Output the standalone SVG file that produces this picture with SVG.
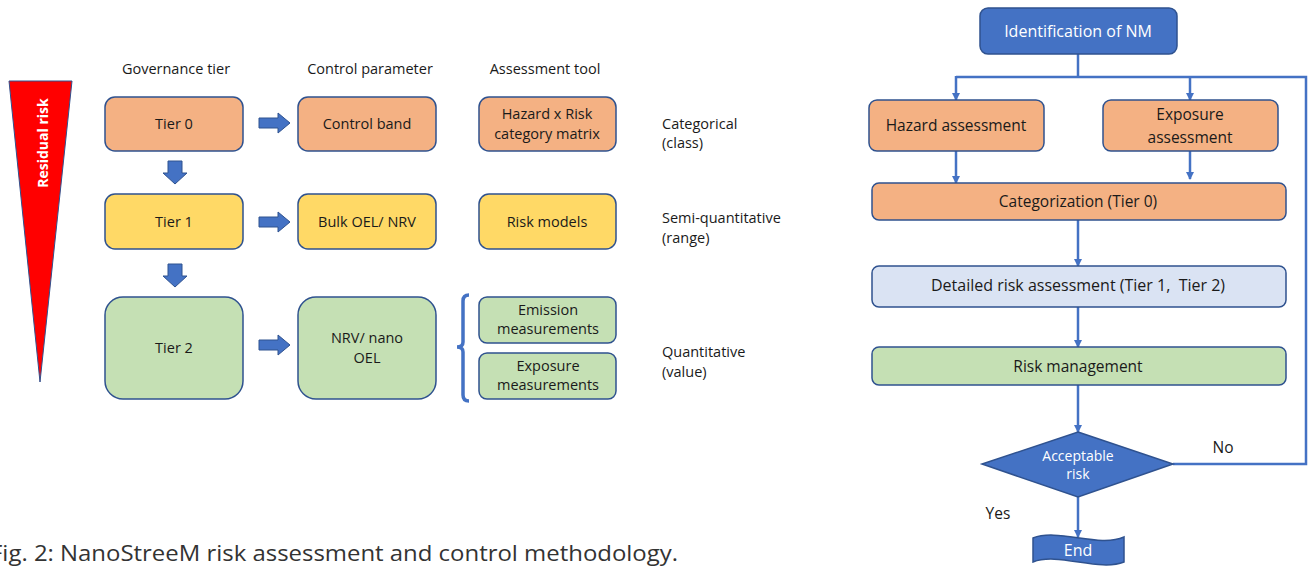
<svg xmlns="http://www.w3.org/2000/svg" width="1311" height="567" viewBox="0 0 1311 567">
<defs>
<style>
.t{font-family:"Open Sans","Liberation Sans",sans-serif;font-size:14.5px;fill:#1a1a1a;text-anchor:middle}
.l{font-family:"Open Sans","Liberation Sans",sans-serif;font-size:14.5px;fill:#1a1a1a}
.w{font-family:"Open Sans","Liberation Sans",sans-serif;font-size:16px;fill:#ffffff;text-anchor:middle}
.f{font-family:"Open Sans","Liberation Sans",sans-serif;font-size:15.5px;fill:#1a1a1a;text-anchor:middle;white-space:pre}
.bx{stroke:#2F528F;stroke-width:1.5}
.or{fill:#F4B183}
.ye{fill:#FFD966}
.gr{fill:#C5E0B4}
.lb{fill:#DAE3F3}
.bl{fill:#4472C4}
.ba{fill:#4472C4;stroke:#2F528F;stroke-width:1}
.cn{fill:none;stroke:#4472C4;stroke-width:2.5}
</style>
<marker id="ah" markerWidth="8" markerHeight="8" refX="7" refY="4" orient="auto" markerUnits="userSpaceOnUse">
<path d="M0,0 L8,4 L0,8 Z" fill="#4472C4"/>
</marker>
</defs>
<rect width="1311" height="567" fill="#ffffff"/>

<g id="residual-risk">
<polygon points="9,81 72,81 40,382" fill="#FF0000" stroke="#2F528F" stroke-width="1"/>
<text x="48" y="143" transform="rotate(-90 48 143)" style="font-family:'Open Sans','Liberation Sans',sans-serif;font-size:14px;font-weight:bold;fill:#ffffff;text-anchor:middle">Residual risk</text>
</g>

<g id="headers">
<text class="t" x="176" y="74">Governance tier</text>
<text class="t" x="370" y="74">Control parameter</text>
<text class="t" x="545" y="74">Assessment tool</text>
</g>

<g id="tier0"><rect class="bx or" x="105" y="97" width="138" height="54" rx="10"/><text class="t" x="174" y="129">Tier 0</text></g>
<g id="tier1"><rect class="bx ye" x="105" y="194" width="138" height="55" rx="10"/><text class="t" x="174" y="227">Tier 1</text></g>
<g id="tier2"><rect class="bx gr" x="105" y="297" width="138" height="102" rx="18"/><text class="t" x="174" y="353">Tier 2</text></g>

<g id="control-band"><rect class="bx or" x="298" y="97" width="138" height="54" rx="10"/><text class="t" x="367" y="129">Control band</text></g>
<g id="bulk-oel"><rect class="bx ye" x="298" y="194" width="138" height="55" rx="10"/><text class="t" x="367" y="227">Bulk OEL/ NRV</text></g>
<g id="nrv-nano"><rect class="bx gr" x="298" y="297" width="138" height="102" rx="18"/><text class="t" x="367" y="343">NRV/ nano</text><text class="t" x="367" y="363">OEL</text></g>

<g id="hazard-matrix"><rect class="bx or" x="479" y="97" width="137" height="54" rx="10"/><text class="t" x="547" y="119">Hazard x Risk</text><text class="t" x="547" y="139">category matrix</text></g>
<g id="risk-models"><rect class="bx ye" x="479" y="194" width="137" height="55" rx="10"/><text class="t" x="547" y="227">Risk models</text></g>
<g id="emission"><rect class="bx gr" x="479" y="297" width="137" height="46" rx="8"/><text class="t" x="548" y="315">Emission</text><text class="t" x="548" y="334">measurements</text></g>
<g id="exposure-meas"><rect class="bx gr" x="479" y="353" width="137" height="46" rx="8"/><text class="t" x="548" y="371">Exposure</text><text class="t" x="548" y="390">measurements</text></g>

<g id="side-labels">
<text class="l" x="662" y="129">Categorical</text>
<text class="l" x="662" y="148">(class)</text>
<text class="l" x="662" y="223">Semi-quantitative</text>
<text class="l" x="662" y="243">(range)</text>
<text class="l" x="662" y="357">Quantitative</text>
<text class="l" x="662" y="377">(value)</text>
</g>

<g id="block-arrows">
<polygon class="ba" points="259,118 278,118 278,113 290,123 278,133 278,128 259,128"/>
<polygon class="ba" points="259,217 278,217 278,212 290,222 278,232 278,227 259,227"/>
<polygon class="ba" points="259,340 278,340 278,335 290,345 278,355 278,350 259,350"/>
<polygon class="ba" points="168,161 182,161 182,173 187,173 175,184 163,173 168,173"/>
<polygon class="ba" points="168,264 182,264 182,276 187,276 175,287 163,276 168,276"/>
<path d="M469,295 Q463,295 463,301 L463,342 Q463,347 457,347 Q463,347 463,352 L463,395 Q463,401 469,401" fill="none" stroke="#4472C4" stroke-width="3.5"/>
</g>

<g id="connectors">
<path class="cn" d="M1078,54 L1078,77"/>
<path class="cn" d="M956,77 L1306,77 L1306,464 L1173,464"/>
<path class="cn" d="M956,76 L956,100" marker-end="url(#ah)"/>
<path class="cn" d="M1190,76 L1190,100" marker-end="url(#ah)"/>
<path class="cn" d="M956,151 L956,183" marker-end="url(#ah)"/>
<path class="cn" d="M1190,151 L1190,179" marker-end="url(#ah)"/>
<path class="cn" d="M1078,220 L1078,266" marker-end="url(#ah)"/>
<path class="cn" d="M1078,307 L1078,347" marker-end="url(#ah)"/>
<path class="cn" d="M1078,385 L1078,432" marker-end="url(#ah)"/>
<path class="cn" d="M1078,497 L1078,537" marker-end="url(#ah)"/>
</g>

<g id="identification"><rect class="bx bl" x="980" y="8" width="197" height="46" rx="8"/><text class="w" x="1078" y="37">Identification of NM</text></g>
<g id="hazard-assessment"><rect class="bx or" x="869" y="100" width="175" height="51" rx="8"/><text class="f" x="956" y="131">Hazard assessment</text></g>
<g id="exposure-assessment"><rect class="bx or" x="1103" y="100" width="175" height="51" rx="8"/><text class="f" x="1190" y="120">Exposure</text><text class="f" x="1190" y="143">assessment</text></g>
<g id="categorization"><rect class="bx or" x="872" y="183" width="414" height="37" rx="7"/><text class="f" x="1078" y="207">Categorization (Tier 0)</text></g>
<g id="detailed"><rect class="bx lb" x="872" y="266" width="414" height="41" rx="7"/><text class="f" x="1078" y="291" style="font-size:16px">Detailed risk assessment (Tier 1,  Tier 2)</text></g>
<g id="risk-management"><rect class="bx gr" x="872" y="347" width="414" height="38" rx="7"/><text class="f" x="1078" y="372">Risk management</text></g>
<g id="acceptable"><polygon class="bx bl" points="1078,432 1173,464 1078,497 982,464"/><text class="w" x="1078" y="461" style="font-size:14px">Acceptable</text><text class="w" x="1078" y="479" style="font-size:14px">risk</text></g>
<g id="end"><path class="bx bl" d="M1033,538 C1058,528 1099,548 1124,537 L1124,562 C1099,572 1058,552 1033,562 Z"/><text class="w" x="1078" y="556">End</text></g>

<g id="flow-labels">
<text class="f" x="1223" y="453">No</text>
<text class="f" x="998" y="519">Yes</text>
</g>

<text x="-10" y="561" textLength="688" lengthAdjust="spacingAndGlyphs" style="font-family:'Open Sans','Noto Sans',sans-serif;font-size:21px;fill:#333333">Fig. 2: NanoStreeM risk assessment and control methodology.</text>
</svg>
